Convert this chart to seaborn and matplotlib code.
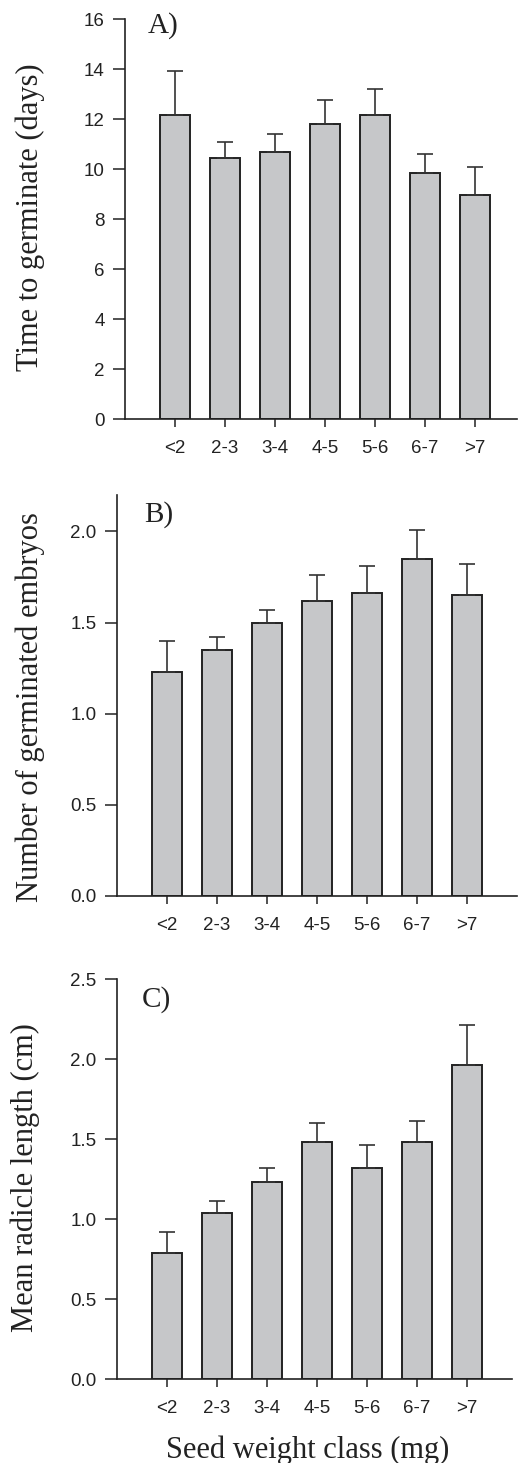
import matplotlib
matplotlib.use("Agg")
import matplotlib.pyplot as plt
import seaborn as sns
import numpy as np
import pandas as pd

categories = ["<2", "2-3", "3-4", "4-5", "5-6", "6-7", ">7"]

time_mean = [12.16, 10.44, 10.67, 11.81, 12.16, 9.84, 8.96]
time_err = [1.76, 0.65, 0.74, 0.94, 1.04, 0.76, 1.12]

embryo_mean = [1.23, 1.35, 1.50, 1.62, 1.66, 1.85, 1.65]
embryo_err = [0.17, 0.07, 0.07, 0.14, 0.15, 0.16, 0.17]

radicle_mean = [0.79, 1.04, 1.23, 1.48, 1.32, 1.48, 1.96]
radicle_err = [0.13, 0.07, 0.09, 0.12, 0.14, 0.13, 0.25]

ylabels = ["Time to germinate (days)", "Number of germinated embryos", "Mean radicle length (cm)"]
panel_labels = ["A)", "B)", "C)"]
xlabel = "Seed weight class (mg)"

sns.set_style("ticks")
plt.rcParams["font.family"] = ["Liberation Sans", "DejaVu Sans"]

W, H = 521, 1463
fig = plt.figure(figsize=(W / 100, H / 100), dpi=100)

# axes boxes in pixels: left, right, top, bottom
boxes = [(125, 517, 19, 419), (117, 517, 495, 896), (117, 512, 979, 1379)]
ylims = [(0, 16), (0, 2.2), (0, 2.5)]
yticks = [np.arange(0, 17, 2), [0.0, 0.5, 1.0, 1.5, 2.0], [0.0, 0.5, 1.0, 1.5, 2.0, 2.5]]
yfmt = ["{:.0f}", "{:.1f}", "{:.1f}"]
xrights = [6.84, 7.0, 6.9]
ylab_pos = [(30, 217), (30, 707), (25, 1178)]
plab_pos = [(148, 33), (144, 522), (142, 1007)]

means = [time_mean, embryo_mean, radicle_mean]
errs = [time_err, embryo_err, radicle_err]

bar_color = "#c6c7c9"
edge = "#222222"
serif = ["Liberation Serif", "DejaVu Serif"]

for i in range(3):
    l, r, t, b = boxes[i]
    ax = fig.add_axes([l / W, (H - b) / H, (r - l) / W, (b - t) / H])
    df = pd.DataFrame({"cls": categories, "val": means[i]})
    sns.barplot(data=df, x="cls", y="val", ax=ax, color=bar_color, width=0.6,
                edgecolor=edge, linewidth=1.4, errorbar=None, saturation=1)
    xs = np.arange(len(categories))
    ax.errorbar(xs, means[i], yerr=[np.zeros(len(xs)), errs[i]], fmt="none",
                ecolor="#333333", elinewidth=1.2, capsize=5.8, capthick=1.2, zorder=1)
    ax.set_xlim(-1, xrights[i])
    ax.set_ylim(*ylims[i])
    ax.set_yticks(yticks[i])
    ax.set_yticklabels([yfmt[i].format(v) for v in yticks[i]])
    ax.tick_params(axis="y", direction="out", length=8.6, width=1.1, pad=6,
                   labelsize=13.5, colors="#222222")
    ax.tick_params(axis="x", direction="out", length=5.8, width=1.1, pad=9,
                   labelsize=13.5, colors="#222222")
    for s in ["top", "right"]:
        ax.spines[s].set_visible(False)
    for s in ["left", "bottom"]:
        ax.spines[s].set_color("#222222")
        ax.spines[s].set_linewidth(1.2)
    ax.set_xlabel("")
    ax.set_ylabel(ylabels[i], family=serif, fontsize=22, color="#222222")
    lx, ly = ylab_pos[i]
    ax.yaxis.set_label_coords((lx - l) / (r - l), (b - ly) / (b - t))
    ax.yaxis.label.set_ha("center")
    ax.yaxis.label.set_va("center")
    px, py = plab_pos[i]
    ax.text((px - l) / (r - l), (b - py) / (b - t), panel_labels[i], transform=ax.transAxes,
            family=serif, fontsize=21, color="#222222", ha="left", va="baseline")
    if i == 2:
        ax.set_xlabel(xlabel, family=serif, fontsize=22, color="#222222")
        ax.xaxis.set_label_coords((308 - l) / (r - l), (b - 1450) / (b - t))
        ax.xaxis.label.set_ha("center")
        ax.xaxis.label.set_va("center")

fig.savefig("out.png", dpi=100)
